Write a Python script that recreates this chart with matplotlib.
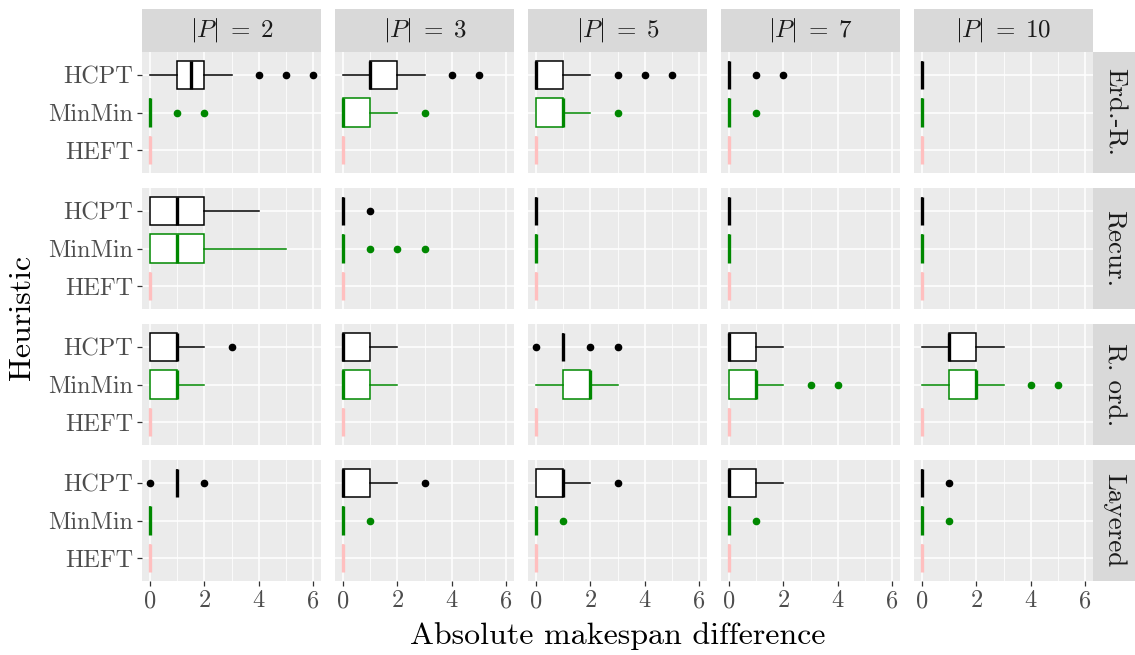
import matplotlib
matplotlib.use("Agg")
import matplotlib.pyplot as plt
from matplotlib.patches import Rectangle

plt.rcParams['font.family'] = ['cmr10', 'DejaVu Serif']
plt.rcParams['mathtext.fontset'] = 'cm'
plt.rcParams['axes.unicode_minus'] = False

# facets
sizes = ["2", "3", "5", "7", "10"]
graphs = ["Erd.-R.", "Recur.", "R. ord.", "Layered"]
heuristics = ["HEFT", "MinMin", "HCPT"]  # bottom -> top
colors = {"HCPT": "black", "MinMin": "#008800", "HEFT": "#FFBFBF"}

# box stats per panel: (whislo, q1, med, q3, whishi, fliers)
Z = (0, 0, 0, 0, 0, [])
hcpt_erd = [(0, 1, 1.5, 2, 3, [4, 5, 6]), (0, 1, 1, 2, 3, [4, 5]),
            (0, 0, 0, 1, 2, [3, 4, 5]), (0, 0, 0, 0, 0, [1, 2]), Z]
minmin_erd = [(0, 0, 0, 0, 0, [1, 2]), (0, 0, 0, 1, 2, [3]),
              (0, 0, 1, 1, 2, [3]), (0, 0, 0, 0, 0, [1]), Z]
hcpt_rec = [(0, 0, 1, 2, 4, []), (0, 0, 0, 0, 0, [1]), Z, Z, Z]
minmin_rec = [(0, 0, 1, 2, 5, []), (0, 0, 0, 0, 0, [1, 2, 3]), Z, Z, Z]
hcpt_rord = [(0, 0, 1, 1, 2, [3]), (0, 0, 0, 1, 2, []),
             (1, 1, 1, 1, 1, [0, 2, 3]), (0, 0, 0, 1, 2, []), (0, 1, 1, 2, 3, [])]
minmin_rord = [(0, 0, 1, 1, 2, []), (0, 0, 0, 1, 2, []),
               (0, 1, 2, 2, 3, []), (0, 0, 1, 1, 2, [3, 4]), (0, 1, 2, 2, 3, [4, 5])]
hcpt_lay = [(1, 1, 1, 1, 1, [0, 2]), (0, 0, 0, 1, 2, [3]),
            (0, 0, 1, 1, 2, [3]), (0, 0, 0, 1, 2, []), (0, 0, 0, 0, 0, [1])]
minmin_lay = [(0, 0, 0, 0, 0, []), (0, 0, 0, 0, 0, [1]),
              (0, 0, 0, 0, 0, [1]), (0, 0, 0, 0, 0, [1]), (0, 0, 0, 0, 0, [1])]
heft_all = [Z, Z, Z, Z, Z]

data = {
    "HCPT": [hcpt_erd, hcpt_rec, hcpt_rord, hcpt_lay],
    "MinMin": [minmin_erd, minmin_rec, minmin_rord, minmin_lay],
    "HEFT": [heft_all, heft_all, heft_all, heft_all],
}

W, H = 1135, 655
fig = plt.figure(figsize=(W / 100, H / 100), dpi=100)

col_left = [142, 335, 528, 721, 914]
row_top = [52, 188, 324, 460]
pw, ph = 179, 121
strip = 43

for r, g in enumerate(graphs):
    for c, p in enumerate(sizes):
        ax = fig.add_axes([col_left[c] / W, 1 - (row_top[r] + ph) / H, pw / W, ph / H])
        ax.set_facecolor("#EBEBEB")
        for s in ax.spines.values():
            s.set_visible(False)

        for i, h in enumerate(heuristics):
            wl, q1, med, q3, wh, fl = data[h][r][c]
            col = colors[h]
            st = [dict(med=med, q1=q1, q3=q3, whislo=wl, whishi=wh, fliers=fl)]
            ax.bxp(st, positions=[i + 1], widths=0.75, orientation="horizontal",
                   showcaps=False, patch_artist=True, manage_ticks=False,
                   boxprops=dict(facecolor="white", edgecolor=col, lw=1.1),
                   whiskerprops=dict(color=col, lw=1.1),
                   medianprops=dict(color=col, lw=2.4, solid_capstyle="butt"),
                   flierprops=dict(marker="o", markerfacecolor=col,
                                   markeredgecolor=col, markersize=4.5))

        ax.set_xlim(-0.3, 6.3)
        ax.set_ylim(0.4, 3.6)
        ax.set_xticks([0, 2, 4, 6])
        ax.set_xticks([1, 3, 5], minor=True)
        ax.set_yticks([1, 2, 3])
        ax.grid(True, which="major", color="white", lw=1.1)
        ax.grid(True, which="minor", axis="x", color="white", lw=0.55)
        ax.tick_params(which="minor", length=0)
        ax.tick_params(which="major", length=3.5, color="#333333", width=0.9,
                       labelsize=17.5, labelcolor="#4D4D4D", pad=3)
        ax.set_axisbelow(True)
        if c == 0:
            ax.set_yticklabels(heuristics)
        else:
            ax.set_yticklabels([])
            ax.tick_params(axis="y", length=0)
        if r == len(graphs) - 1:
            ax.set_xticklabels(["0", "2", "4", "6"])
        else:
            ax.set_xticklabels([])
            ax.tick_params(axis="x", length=0)

        if r == 0:
            fig.patches.append(Rectangle((col_left[c] / W, 1 - row_top[r] / H),
                                         pw / W, strip / H, transform=fig.transFigure,
                                         facecolor="#D9D9D9", edgecolor="none"))
            fig.text((col_left[c] + pw / 2) / W, 1 - (row_top[r] - strip / 2) / H,
                     r"$|P| \;=\; %s$" % p, ha="center", va="center",
                     fontsize=18, color="#1A1A1A")
        if c == len(sizes) - 1:
            x0 = col_left[c] + pw
            fig.patches.append(Rectangle((x0 / W, 1 - (row_top[r] + ph) / H),
                                         strip / W, ph / H, transform=fig.transFigure,
                                         facecolor="#D9D9D9", edgecolor="none"))
            fig.text((x0 + strip / 2) / W, 1 - (row_top[r] + ph / 2) / H, g,
                     rotation=270, ha="center", va="center",
                     fontsize=19.5, color="#1A1A1A")

fig.text((142 + 1093) / 2 / W, 1 - 636 / H, "Absolute makespan difference",
         ha="center", va="center", fontsize=23)
fig.text(22 / W, 1 - 318 / H, "Heuristic", rotation=90,
         ha="center", va="center", fontsize=23)

fig.savefig("out.png", dpi=100)
